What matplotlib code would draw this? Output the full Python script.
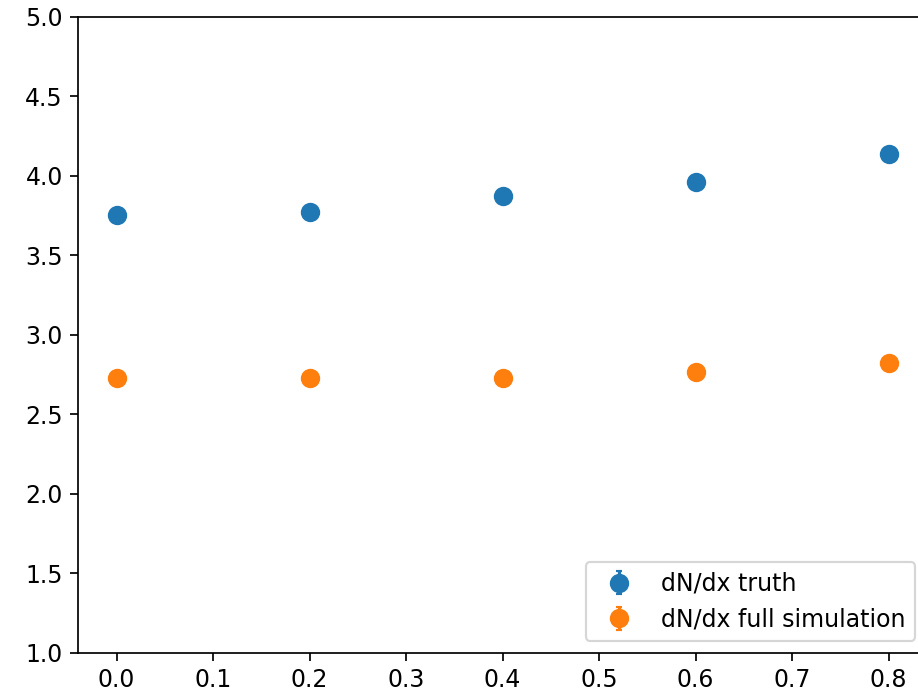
import matplotlib
matplotlib.use("Agg")
import matplotlib.pyplot as plt

# momentum fraction bins
x_vals = [0.0, 0.2, 0.4, 0.6, 0.8]

# dN/dx values and their uncertainties
truth_vals = [3.755, 3.775, 3.875, 3.960, 4.135]
truth_err = [0.02, 0.02, 0.02, 0.02, 0.02]
sim_vals = [2.728, 2.728, 2.728, 2.765, 2.822]
sim_err = [0.02, 0.02, 0.02, 0.02, 0.02]

plt.rcParams["font.size"] = 11

fig = plt.figure(figsize=(918 / 155, 691 / 155), dpi=155)
ax = fig.add_axes([0.085, 0.055, 0.925, 0.9205])

ax.errorbar(x_vals, truth_vals, yerr=truth_err, fmt="o", markersize=8,
            capsize=1.5, label="dN/dx truth")
ax.errorbar(x_vals, sim_vals, yerr=sim_err, fmt="o", markersize=8,
            capsize=1.5, label="dN/dx full simulation")

ax.set_xlim(-0.04, 0.84)
ax.set_ylim(1.0, 5.0)
ax.set_xticks([0.0, 0.1, 0.2, 0.3, 0.4, 0.5, 0.6, 0.7, 0.8])
ax.legend(loc="lower right")

fig.savefig("out.png", dpi=155)
